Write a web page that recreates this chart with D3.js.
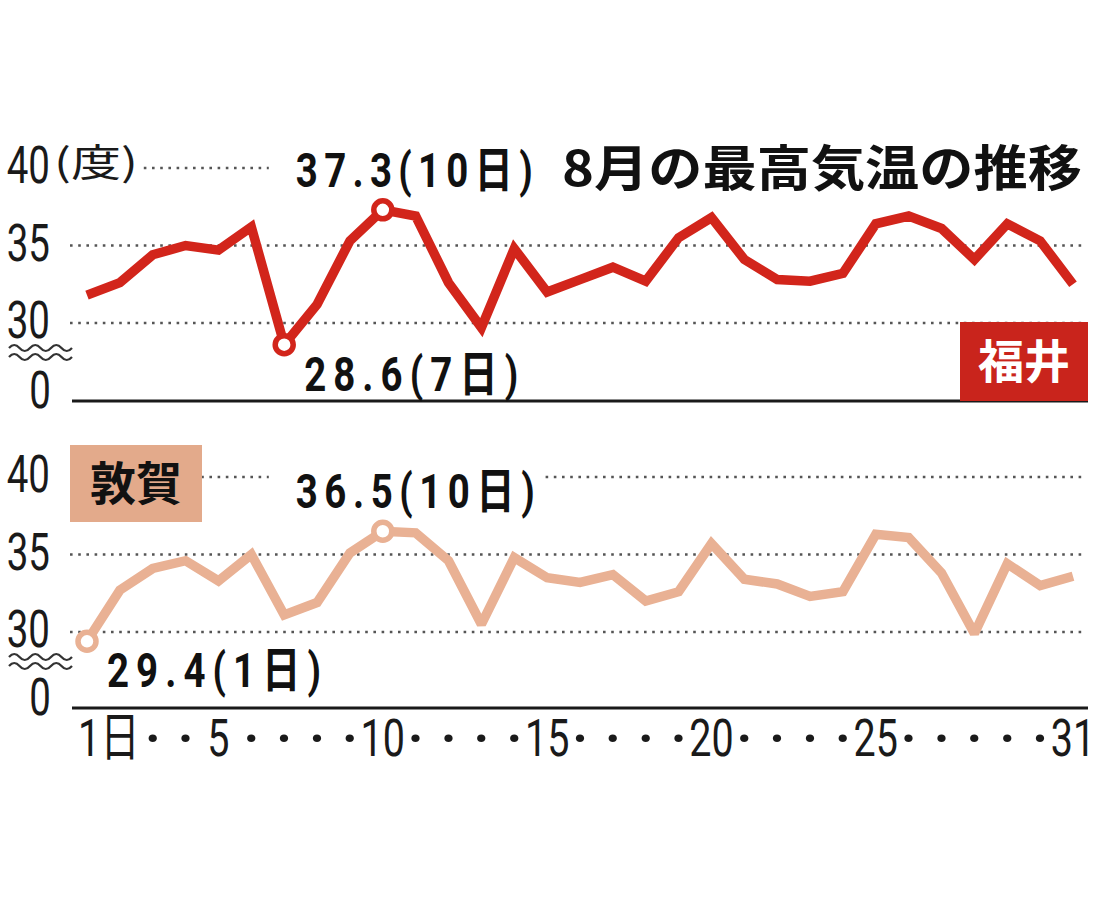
<!DOCTYPE html>
<html><head><meta charset="utf-8">
<script src="https://cdn.jsdelivr.net/npm/d3@7"></script>
<style>body{margin:0;background:#fff}svg{display:block}</style>
</head><body>
<svg id="c" width="1100" height="900"></svg>
<script>
// ---- data ----
const days = d3.range(1, 32);
const fukui = [31.8,32.6,34.4,35.0,34.7,36.2,28.6,31.2,35.3,37.3,36.9,32.6,29.7,34.8,32.0,32.8,33.6,32.7,35.5,36.8,34.1,32.8,32.7,33.2,36.4,36.9,36.1,34.1,36.4,35.3,32.5];
const tsuruga = [29.4,32.7,34.1,34.6,33.3,35.0,31.1,31.9,35.1,36.5,36.4,34.6,30.5,34.8,33.5,33.2,33.7,32.0,32.6,35.7,33.4,33.1,32.3,32.6,36.3,36.1,33.8,29.9,34.4,33.0,33.6];
const yTicks = [30, 35, 40];
const xTickLabels = {1: "1日", 5: "5", 10: "10", 15: "15", 20: "20", 25: "25", 31: "31"};
const titleText = "8月の最高気温の推移";
const unitText = "(度)";
const fukuiNotes = [{day: 10, text: "37.3(10日)", pos: "above", w: 237}, {day: 7, text: "28.6(7日)", pos: "below", w: 214}];
const tsurugaNotes = [{day: 10, text: "36.5(10日)", pos: "above", w: 239}, {day: 1, text: "29.4(1日)", pos: "below", w: 214}];

// ---- layout ----
const svg = d3.select("#c");
const FONT = "Roboto, 'Noto Sans CJK JP', sans-serif";
const x = d3.scaleLinear().domain([1, 31]).range([87, 1073]);
const gridX0 = 70, gridX1 = 1086, axisX0 = 72, axisX1 = 1088;

const panels = [
  {name: "福井", data: fukui, notes: fukuiNotes, line: "#d2251b", box: "#c9241c", boxText: "#fff",
   y: d3.scaleLinear().domain([30, 40]).range([323, 168]), base: 401, boxSide: "right"},
  {name: "敦賀", data: tsuruga, notes: tsurugaNotes, line: "#e9b194", box: "#e3aa8b", boxText: "#111",
   y: d3.scaleLinear().domain([30, 40]).range([632, 477]), base: 708, boxSide: "left"}
];

function ctext(g, tx, ty, str, size, sx, anchor, weight) {
  return g.append("text")
    .attr("transform", `translate(${tx},${ty}) scale(${sx},1)`)
    .attr("text-anchor", anchor || "start")
    .attr("font-family", FONT)
    .attr("font-size", size)
    .attr("font-weight", weight || "normal")
    .attr("fill", "#1a1a1a")
    .text(str);
}

const gridLayer = svg.append("g");
const maskLayer = svg.append("g");
const boxLayer = svg.append("g");
const lineLayer = svg.append("g");
const textLayer = svg.append("g");

panels.forEach((p, pi) => {
  const y = p.y;
  gridLayer.selectAll(null).data(yTicks).join("line")
    .attr("x1", gridX0).attr("x2", gridX1)
    .attr("y1", d => y(d)).attr("y2", d => y(d))
    .attr("stroke", "#555").attr("stroke-width", 2.6)
    .attr("stroke-dasharray", "2.6,5.6");
  gridLayer.append("line")
    .attr("x1", axisX0).attr("x2", axisX1).attr("y1", p.base).attr("y2", p.base)
    .attr("stroke", "#1a1a1a").attr("stroke-width", 3);

  yTicks.forEach(t => {
    ctext(textLayer, 50, y(t) + 15, String(t), 52, 0.74, "end");
  });
  ctext(textLayer, 51, p.base + 7, "0", 52, 0.74, "end");

  const by = y(30) + 25;
  [0, 9].forEach(off => {
    let d = `M9,${by + off}`;
    const seg = 10.5;
    for (let i = 0; i < 6; i++) {
      const x0 = 9 + i * seg;
      const dy = (i % 2 === 0) ? -6 : 6;
      d += ` Q${x0 + seg / 2},${by + off + dy} ${x0 + seg},${by + off}`;
    }
    gridLayer.append("path").attr("d", d).attr("fill", "none")
      .attr("stroke", "#333").attr("stroke-width", 2.2);
  });

  const bw = pi === 0 ? 128 : 132;
  const bx = p.boxSide === "right" ? 960 : 70;
  const byTop = pi === 0 ? y(30) - 1 : 445;
  const bh = pi === 0 ? p.base - byTop : 77;
  boxLayer.append("rect").attr("x", bx).attr("y", byTop).attr("width", bw).attr("height", bh).attr("fill", p.box);
  boxLayer.append("text").attr("x", bx + bw / 2).attr("y", byTop + bh / 2 + 16)
    .attr("text-anchor", "middle").attr("font-family", "'Noto Sans CJK JP', sans-serif")
    .attr("font-weight", "bold").attr("font-size", 46).attr("fill", p.boxText).text(p.name);

  const lineGen = d3.line().x((d, i) => x(days[i])).y(d => y(d));
  lineLayer.append("path").datum(p.data).attr("d", lineGen)
    .attr("fill", "none").attr("stroke", p.line).attr("stroke-width", 9.5)
    .attr("stroke-linejoin", "miter").attr("stroke-miterlimit", 2.2).attr("stroke-linecap", "butt");

  p.notes.forEach(n => {
    const px = x(n.day), py = y(p.data[n.day - 1]);
    lineLayer.append("circle").attr("cx", px).attr("cy", py).attr("r", 9)
      .attr("fill", "#fff").attr("stroke", p.line).attr("stroke-width", 5.5);
    const lx = n.pos === "above" ? px - 87 : px + 20;
    const ly = n.pos === "above" ? py - 23 : py + 46;
    const sx = 0.8;
    textLayer.append("text")
      .attr("transform", `translate(${lx},${ly}) scale(${sx},1)`)
      .attr("font-family", FONT).attr("font-weight", "bold").attr("font-size", 48)
      .attr("fill", "#111").attr("textLength", n.w / sx).attr("lengthAdjust", "spacing")
      .text(n.text);
    if (n.pos === "above") {
      maskLayer.append("rect").attr("x", lx - 27).attr("y", y(40) - 4)
        .attr("width", n.w + 35).attr("height", 8).attr("fill", "#fff");
    }
  });
});

const topP = panels[0];
textLayer.append("text").attr("x", 54).attr("y", topP.y(40) + 8)
  .attr("font-family", "'Noto Sans CJK JP', sans-serif").attr("font-size", 38)
  .attr("fill", "#1a1a1a").attr("textLength", 84).attr("lengthAdjust", "spacingAndGlyphs").text(unitText);
maskLayer.append("rect").attr("x", 54).attr("y", topP.y(40) - 4).attr("width", 88).attr("height", 8).attr("fill", "#fff");
textLayer.append("text").attr("x", 562).attr("y", topP.y(40) + 18)
  .attr("font-family", "'Noto Sans CJK JP', sans-serif").attr("font-weight", "bold").attr("font-size", 49)
  .attr("fill", "#111").attr("textLength", 520).attr("lengthAdjust", "spacingAndGlyphs").text(titleText);
maskLayer.append("rect").attr("x", 536).attr("y", topP.y(40) - 4).attr("width", 560).attr("height", 8).attr("fill", "#fff");

const botP = panels[1];
days.forEach(dd => {
  if (dd === 2) return;
  const lab = xTickLabels[dd];
  if (dd === 1) {
    ctext(textLayer, x(dd) - 9, botP.base + 48, lab, 52, 0.76, "start");
  } else if (lab) {
    ctext(textLayer, x(dd), botP.base + 48, lab, 52, 0.76, "middle");
  } else {
    ctext(textLayer, x(dd), botP.base + 48, "·", 52, 1, "middle", "bold");
  }
});
</script>
</body></html>
